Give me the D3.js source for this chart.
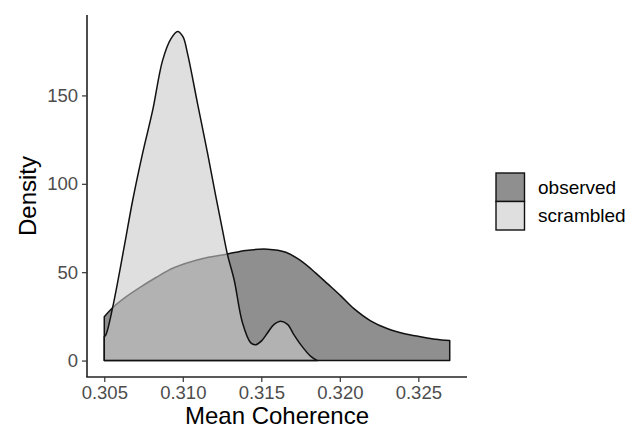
<!DOCTYPE html>
<html>
<head>
<meta charset="utf-8">
<script src="https://cdn.jsdelivr.net/npm/d3@7"></script>
<style>
  body { margin: 0; background: #fff; }
  text { font-family: "Liberation Sans", Arial, sans-serif; }
</style>
</head>
<body>
<script>
// density curves
const groups = ['observed', 'scrambled']
const observedX = [0.3050, 0.30553, 0.30638, 0.30733, 0.30829, 0.30943, 0.31115, 0.31285, 0.31401, 0.31539,
  0.31656, 0.31751, 0.31847, 0.31921, 0.32006, 0.32088, 0.32196, 0.32305, 0.32413, 0.32515, 0.3261, 0.3270]
const observedY = [24.8, 29.9, 36, 41.7, 47, 52.5, 57.5, 60.3, 62.3, 63,
  61.3, 56.5, 49.5, 43.5, 36.6, 29.5, 22.5, 18, 15.2, 13.5, 12.1, 11.3]
const scrambledX = [0.3050, 0.30511, 0.30553, 0.30627, 0.30681, 0.30744, 0.30808, 0.30871, 0.30924, 0.30967,
  0.31001, 0.31031, 0.31094, 0.31158, 0.31211, 0.31253, 0.31285, 0.31327, 0.31380, 0.31433, 0.31465, 0.31503,
  0.31539, 0.31580, 0.31624, 0.31669, 0.31707, 0.31751, 0.31815, 0.31858]
const scrambledY = [13.5, 14.7, 29.9, 64.4, 90.7, 117.2, 141.5, 169.7, 182, 186.2,
  183.2, 173.4, 145.4, 117.2, 92.6, 73.8, 59.8, 45.7, 21.4, 10, 9, 11.3,
  15.6, 20.3, 22.2, 20.3, 14.7, 9, 2.4, 0]
const xTicks = [0.305, 0.310, 0.315, 0.320, 0.325]
const yTicks = [0, 50, 100, 150]

const W = 634, H = 432
const svg = d3.select('body').append('svg').attr('width', W).attr('height', H)

const x = d3.scaleLinear().domain([0.30390, 0.32810]).range([87, 467])
const y = d3.scaleLinear().domain([-9.3, 195.5]).range([377, 15])

const fills = { observed: '#1f1f1f', scrambled: '#cacaca' }
const alphas = { observed: 0.5, scrambled: 0.6 }
const keyFill = { observed: '#8f8f8f', scrambled: '#dfdfdf' }

const series = {
  observed: observedX.map((v, i) => [v, observedY[i]]),
  scrambled: scrambledX.map((v, i) => [v, scrambledY[i]])
}

const area = d3.area()
  .x(d => x(d[0]))
  .y0(y(0))
  .y1(d => y(d[1]))
  .curve(d3.curveCatmullRom.alpha(0.5))

// observed first, scrambled on top (its fill greys the observed outline)
const plot = svg.append('g')
groups.forEach(k => {
  plot.append('path').datum(series[k])
    .attr('d', area)
    .attr('fill', fills[k])
    .attr('fill-opacity', alphas[k])
  plot.append('path').datum(series[k])
    .attr('d', d => area(d) + 'Z')
    .attr('fill', 'none')
    .attr('stroke', '#111')
    .attr('stroke-width', 1.5)
    .attr('stroke-linejoin', 'round')
})

// axes
const xAxis = svg.append('g')
  .attr('transform', `translate(0,377)`)
  .call(d3.axisBottom(x).tickValues(xTicks).tickFormat(d3.format('.3f')).tickSizeOuter(0).tickSize(5).tickPadding(4))
const yAxis = svg.append('g')
  .attr('transform', `translate(87,0)`)
  .call(d3.axisLeft(y).tickValues(yTicks).tickSizeOuter(0).tickSize(5).tickPadding(4))

;[xAxis, yAxis].forEach(a => {
  a.select('.domain').attr('stroke', '#222').attr('stroke-width', 1.6)
  a.selectAll('.tick line').attr('stroke', '#333').attr('stroke-width', 1.2)
  a.selectAll('.tick text').attr('fill', '#4d4d4d').style('font-size', '18.5px')
})
xAxis.select('.domain').attr('d', `M${87 - 0.8},0H467`)
yAxis.select('.domain').attr('d', `M0,15V377`)

svg.append('text')
  .attr('x', 277).attr('y', 424)
  .attr('text-anchor', 'middle')
  .style('font-size', '24px')
  .attr('fill', '#000')
  .text('Mean Coherence')

svg.append('text')
  .attr('transform', 'translate(36,196) rotate(-90)')
  .attr('text-anchor', 'middle')
  .style('font-size', '24px')
  .attr('fill', '#000')
  .text('Density')

// legend
const legend = svg.append('g').attr('transform', 'translate(496,173)')
groups.forEach((k, i) => {
  legend.append('rect')
    .attr('x', 0).attr('y', i * 28.5)
    .attr('width', 28.5).attr('height', 28.5)
    .attr('fill', keyFill[k])
    .attr('stroke', '#111').attr('stroke-width', 1.4)
  legend.append('text')
    .attr('x', 42).attr('y', i * 28.5 + 14.25)
    .attr('dy', '0.35em')
    .style('font-size', '19px')
    .attr('fill', '#000')
    .text(k)
})
</script>
</body>
</html>
